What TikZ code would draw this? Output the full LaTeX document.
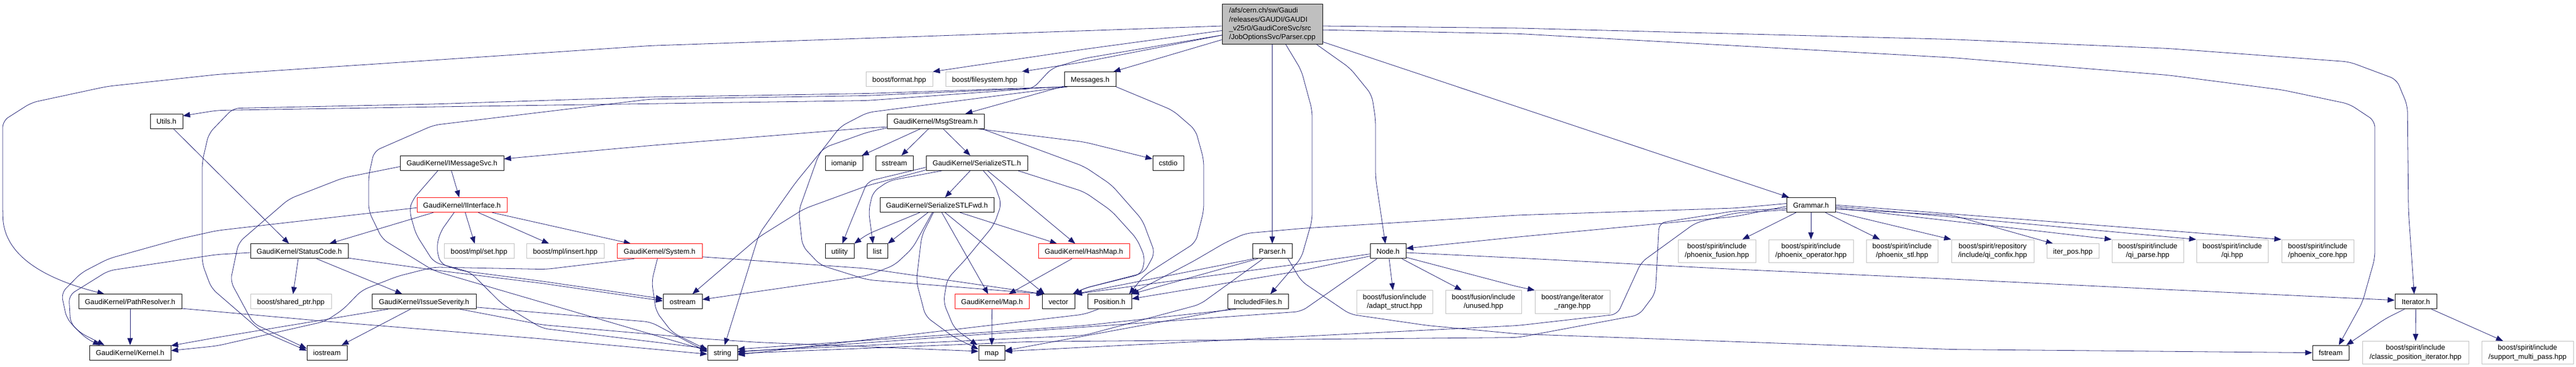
\documentclass[tikz,border=0pt]{standalone}
\usepackage{fontspec}
\setmainfont{Liberation Sans}
\usetikzlibrary{arrows.meta,calc}
\pgfdeclarelayer{bg}
\pgfdeclarelayer{paper}
\pgfsetlayers{paper,bg,main}
\definecolor{edgec}{RGB}{25,25,112}
\definecolor{grayb}{RGB}{191,191,191}
\newcommand{\dfont}{\fontsize{13.2}{16.2}\selectfont}
\begin{document}
\begin{tikzpicture}[x=1pt,y=-1.2969pt,
  box/.style={draw=black, line width=0.9pt, fill=white, inner sep=0pt, font=\dfont,
    text height=11.5pt, text depth=1.5pt, minimum height=27pt},
  extb/.style={box, draw=grayb},
  trunc/.style={box, draw=red},
  twol/.style={draw=grayb, line width=0.9pt, fill=white, inner sep=0pt, font=\dfont,
    align=center, minimum height=42.5pt},
  srcst/.style={draw=black, line width=0.9pt, fill=grayb, inner sep=0pt, font=\dfont,
    align=left, minimum width=185pt, minimum height=74pt},
  ar/.style={draw=edgec, line width=0.8pt, -{Triangle[length=13pt,width=10pt]}, rounded corners=12pt}]
\useasboundingbox (0,0) rectangle (4751,522);
\begin{pgfonlayer}{paper}
\fill[white] (0,0) rectangle (4751,522);
\end{pgfonlayer}

% ---------- nodes ----------
\node[srcst] (src) at (2346.5,34.5) {/afs/cern.ch/sw/Gaudi\\/releases/GAUDI/GAUDI\\\_v25r0/GaudiCoreSvc/src\\/JobOptionsSvc/Parser.cpp};
\node[extb, minimum width=123pt] (format) at (1658.5,112.7) {boost/format.hpp};
\node[extb, minimum width=144pt] (filesys) at (1816,112.7) {boost/filesystem.hpp};
\node[box, minimum width=95pt] (Messages) at (2010.5,112.7) {Messages.h};
\node[box, minimum width=60pt] (Utils) at (307,172.5) {Utils.h};
\node[box, minimum width=179pt] (MsgStream) at (1725.5,172.5) {GaudiKernel/MsgStream.h};
\node[box, minimum width=191pt] (IMsgSvc) at (833.5,232) {GaudiKernel/IMessageSvc.h};
\node[box, minimum width=69pt] (iomanip) at (1556.5,232) {iomanip};
\node[box, minimum width=69pt] (sstream) at (1649.5,232) {sstream};
\node[box, minimum width=187pt] (SerSTL) at (1801.5,232) {GaudiKernel/SerializeSTL.h};
\node[box, minimum width=57pt] (cstdio) at (2154.5,232) {cstdio};
\node[trunc, minimum width=166pt] (IInterface) at (852,291.5) {GaudiKernel/IInterface.h};
\node[box, minimum width=210pt] (Fwd) at (1728,291.5) {GaudiKernel/SerializeSTLFwd.h};
\node[box, minimum width=90pt] (Grammar) at (3340,291.5) {Grammar.h};
\node[box, minimum width=180pt] (StatusCode) at (552,357.3) {GaudiKernel/StatusCode.h};
\node[extb, minimum width=129pt] (mplset) at (883.5,357.3) {boost/mpl/set.hpp};
\node[extb, minimum width=143pt] (mplinsert) at (1042.5,357.3) {boost/mpl/insert.hpp};
\node[trunc, minimum width=157pt] (System) at (1216.5,357.3) {GaudiKernel/System.h};
\node[box, minimum width=53pt] (utility) at (1548.5,357.3) {utility};
\node[box, minimum width=38pt] (list) at (1618,357.3) {list};
\node[trunc, minimum width=168pt] (HashMap) at (1999,357.3) {GaudiKernel/HashMap.h};
\node[box, minimum width=73pt] (Parser) at (2346.5,357.3) {Parser.h};
\node[box, minimum width=66pt] (Node) at (2560,357.3) {Node.h};
\node[twol, minimum width=143pt] (pfusion) at (3166.5,357.3) {boost/spirit/include\\/phoenix\_fusion.hpp};
\node[twol, minimum width=156pt] (poper) at (3340,357.3) {boost/spirit/include\\/phoenix\_operator.hpp};
\node[twol, minimum width=132pt] (pstl) at (3508,357.3) {boost/spirit/include\\/phoenix\_stl.hpp};
\node[twol, minimum width=152pt] (confix) at (3675,357.3) {boost/spirit/repository\\/include/qi\_confix.hpp};
\node[extb, minimum width=96pt] (iterpos) at (3823,357.3) {iter\_pos.hpp};
\node[twol, minimum width=132pt] (qiparse) at (3961,357.3) {boost/spirit/include\\/qi\_parse.hpp};
\node[twol, minimum width=132pt] (qi) at (4117,357.3) {boost/spirit/include\\/qi.hpp};
\node[twol, minimum width=133pt] (pcore) at (4274.5,357.3) {boost/spirit/include\\/phoenix\_core.hpp};
\node[box, minimum width=190pt] (PathRes) at (240,429) {GaudiKernel/PathResolver.h};
\node[extb, minimum width=149pt] (sharedptr) at (536.5,429) {boost/shared\_ptr.hpp};
\node[box, minimum width=192pt] (IssueSev) at (782,429) {GaudiKernel/IssueSeverity.h};
\node[box, minimum width=72pt] (ostream) at (1259,429) {ostream};
\node[trunc, minimum width=137pt] (Maph) at (1829.5,429) {GaudiKernel/Map.h};
\node[box, minimum width=60pt] (vector) at (1952,429) {vector};
\node[box, minimum width=81pt] (Position) at (2046.5,429) {Position.h};
\node[box, minimum width=112pt] (IncFiles) at (2320,429) {IncludedFiles.h};
\node[twol, minimum width=140pt] (adapt) at (2572,429.5) {boost/fusion/include\\/adapt\_struct.hpp};
\node[twol, minimum width=140pt] (unused) at (2736,429.5) {boost/fusion/include\\/unused.hpp};
\node[twol, minimum width=138pt] (itrange) at (2900,429.5) {boost/range/iterator\\\_range.hpp};
\node[box, minimum width=77pt] (Iterator) at (4455.5,429) {Iterator.h};
\node[box, minimum width=150pt] (Kernel) at (240,501.7) {GaudiKernel/Kernel.h};
\node[box, minimum width=74pt] (iostream) at (603,501.7) {iostream};
\node[box, minimum width=55pt] (string) at (1332.5,501.7) {string};
\node[box, minimum width=48pt] (map) at (1829,501.7) {map};
\node[box, minimum width=67pt] (fstream) at (4298.5,501.7) {fstream};
\node[twol, minimum width=196pt] (classic) at (4455,501.7) {boost/spirit/include\\/classic\_position\_iterator.hpp};
\node[twol, minimum width=169pt] (multipass) at (4661.5,501.7) {boost/spirit/include\\/support\_multi\_pass.hpp};

% ---------- edges ----------
\begin{pgfonlayer}{bg}
% main file
\draw[ar] ($(src.west)+(0,2.5)$) -- (1200,65) -- (400,106) -- (197,123) -- (58,146) -- (5,172) -- (5,300) .. controls (8,370) and (100,400) .. ($(PathRes.north west)+(48,0)$);
\draw[ar] ($(src.west)+(0,9)$) -- (2000,70) -- (format.north east);
\draw[ar] ($(src.west)+(0,15.5)$) -- (2000,88) -- ($(filesys.north east)+(-4,0)$);
\draw[ar] ($(src.west)+(0,15.5)$) -- (2000,83) -- (1940,97) -- (1905,126) -- (1600,143) -- (800,152) -- (400,157) -- ($(Utils.north east)+(0,3)$);
\draw[ar] ($(src.west)+(0,22)$) -- ($(Messages.north east)+(-5,0)$);
\draw[ar] (src) -- (Parser);
\draw[ar] ($(src.south)+(25,0)$) -- (2400,100) -- (2420,157) -- (2420,313) -- (2400,367) -- ($(IncFiles.north)+(23,0)$);
\draw[ar] ($(src.south)+(82,0)$) -- (2490,97) -- (2530,135) -- (2537,170) -- (2537,253) -- ($(Node.north)+(-5,0)$);
\draw[ar] ($(src.east)+(0,25)$) -- ($(Grammar.north west)+(5,0)$);
\draw[ar] ($(src.east)+(0,2.5)$) -- (2800,40) -- (3600,56) -- (4000,69) -- (4333,88) -- (4420,113) -- (4440,150) -- (4442,300) -- ($(Iterator.north)+(-3,0)$);
\draw[ar] ($(src.east)+(0,8)$) -- (2800,48) -- (3600,82) -- (4000,107) -- (4210,128) -- (4333,148) -- (4380,172) -- (4380,367) -- (4357,430) -- ($(fstream.north)+(15,0)$);
% Utils
\draw[ar] ($(Utils.south)+(13,0)$) -- ($(StatusCode.north)+(-19,0)$);
% Messages
\draw[ar] ($(Messages.south west)+(0,-1)$) -- ($(MsgStream.north)+(55,0)$);
\draw[ar] (Messages.south east) -- (2163,157) -- (2205,185) -- (2220,227) -- (2220,300) -- (2205,345) -- (2110,392) -- ($(Position.north east)+(-5,0)$);
\draw[ar] (Messages.south west) -- (1600,133) -- (1200,138) -- (800,148) -- (430,154) -- (385,190) -- (373,230) -- (373,375) -- (390,410) -- (480,470) -- ($(iostream.west)+(0,-3)$);
\draw[ar] ($(Messages.south west)+(3,0)$) -- (1600,136) -- (1200,141) -- (800,178) -- (690,215) -- (680,250) -- (680,300) -- (705,340) -- (800,385) -- ($(string.west)+(0,-3)$);
\draw[ar] ($(Messages.south west)+(6,0)$) -- (1600,160) -- (1550,180) -- (1510,220) -- (1473,300) -- (1480,350) -- (1513,377) -- (1600,398) -- ($(vector.north west)+(5,0)$);
% MsgStream
\draw[ar] ($(MsgStream.west)+(0,8)$) -- (1600,182) -- (1200,207) -- ($(IMsgSvc.east)+(0,-6)$);
\draw[ar] ($(MsgStream.west)+(0,9.5)$) -- (1600,188) -- (1520,210) -- (1467,260) -- (1400,333) -- ($(string.north)+(4,0)$);
\draw[ar] ($(MsgStream.south)+(-28,0)$) -- ($(iomanip.north east)+(-2,0)$);
\draw[ar] ($(MsgStream.south)+(-13,0)$) -- ($(sstream.north)+(13,0)$);
\draw[ar] ($(MsgStream.south)+(14,0)$) -- ($(SerSTL.north)+(-12,0)$);
\draw[ar] ($(MsgStream.south east)+(-12,0)$) -- (2000,202) -- ($(cstdio.west)+(0,-6)$);
\draw[ar] ($(MsgStream.south east)+(-4,0)$) -- (2000,237) -- (2050,263) -- (2107,313) -- (2130,360) -- (2110,388) -- (2000,410) -- ($(vector.north east)+(-4,0)$);
% IMessageSvc
\draw[ar] ($(IMsgSvc.south)+(-1,0)$) -- ($(IInterface.north)+(-5,0)$);
\draw[ar] ($(IMsgSvc.west)+(0,5)$) -- (633,253) -- (533,283) -- (440,345) -- (425,400) -- (467,460) -- ($(iostream.west)+(0,-6)$);
\draw[ar] ($(IMsgSvc.south west)+(70,0)$) -- (760,285) -- (755,300) -- (767,333) -- (800,373) -- (867,387) -- (927,433) -- (1000,467) -- ($(string.west)+(0,-6)$);
% IInterface
\draw[ar] ($(IInterface.south west)+(31,0)$) -- ($(StatusCode.north east)+(-35,0)$);
\draw[ar] ($(IInterface.south)+(6,0)$) -- ($(mplset.north)+(-8,0)$);
\draw[ar] ($(IInterface.south)+(30,0)$) -- ($(mplinsert.north)+(-30,0)$);
\draw[ar] ($(IInterface.south east)+(-28,0)$) -- ($(System.north)+(-53,0)$);
\draw[ar] ($(IInterface.west)+(0,4)$) -- (400,328) -- (330,340) -- (200,368) -- (150,388) -- (113,417) -- (123,453) -- (147,473) -- ($(Kernel.north west)+(28,0)$);
\draw[ar] ($(IInterface.south west)+(69,0)$) -- (812,330) -- (805,352) -- (812,375) -- (850,385) -- (1000,400) -- ($(ostream.west)+(0,-4)$);
% StatusCode
\draw[ar] ($(StatusCode.west)+(0,2)$) -- (400,362) -- (200,385) -- (127,420) -- (130,460) -- (160,482) -- ($(Kernel.north west)+(20,0)$);
\draw[ar] ($(StatusCode.south)+(-2,0)$) -- ($(sharedptr.north)+(4,0)$);
\draw[ar] ($(StatusCode.south)+(32,0)$) -- ($(IssueSev.north)+(-40,0)$);
\draw[ar] ($(StatusCode.south east)+(0,-1)$) -- (800,384) -- (1000,403) -- ($(ostream.west)+(0,-1)$);
% IssueSeverity
\draw[ar] ($(IssueSev.south)+(-25,0)$) -- ($(iostream.north)+(27,0)$);
\draw[ar] ($(IssueSev.south west)+(30,0)$) -- (400,480) -- ($(Kernel.east)+(0,-10)$);
\draw[ar] ($(IssueSev.east)+(0,8)$) -- (1200,458) -- ($(string.west)+(0,-1)$);
\draw[ar] ($(IssueSev.south east)+(-30,0)$) -- (1000,462) -- (1300,482) -- (1400,487) -- ($(map.west)+(0,-2)$);
% PathResolver
\draw[ar] (PathRes) -- (Kernel);
\draw[ar] ($(PathRes.south east)+(0,-1)$) -- (600,457) -- (1000,482) -- ($(string.west)+(0,2)$);
% System
\draw[ar] ($(System.south west)+(32,0)$) -- (1007,383) -- (800,380) -- (733,393) -- (667,413) -- (633,440) -- (600,457) -- (400,492) -- ($(Kernel.east)+(0,-3)$);
\draw[ar] ($(System.south)+(-4,0)$) -- (1202,400) -- (1210,443) -- (1240,473) -- ($(string.west)+(0,-4)$);
\draw[ar] ($(System.east)+(0,8)$) -- (1600,382) -- ($(vector.north west)+(3,0)$);
% SerializeSTL
\draw[ar] ($(SerSTL.south)+(-12,0)$) -- ($(Fwd.north)+(15,0)$);
\draw[ar] ($(SerSTL.south)+(20,0)$) -- ($(HashMap.north)+(-16,0)$);
\draw[ar] ($(SerSTL.south west)+(30,0)$) -- (1640,257) -- (1610,273) -- (1602,300) -- ($(list.north)+(-8,0)$);
\draw[ar] ($(SerSTL.west)+(0,6)$) -- (1600,258) -- (1567,320) -- ($(utility.north)+(5,0)$);
\draw[ar] ($(SerSTL.south west)+(0,-1)$) -- (1600,264) -- (1483,297) -- (1400,337) -- ($(ostream.north)+(18,0)$);
\draw[ar] ($(SerSTL.south)+(12,0)$) -- (1833,260) -- (1847,290) -- (1833,320) -- (1783,367) -- (1747,397) -- (1740,430) -- (1760,467) -- ($(map.north west)+(-2,0)$);
\draw[ar] ($(SerSTL.south east)+(-18,0)$) -- (2000,273) -- (2050,300) -- (2097,340) -- (2112,367) -- (2105,390) -- (2000,410) -- ($(vector.north east)+(-4,0)$);
% SerializeSTLFwd
\draw[ar] ($(Fwd.south west)+(89,0)$) -- (list.north east);
\draw[ar] ($(Fwd.south west)+(74,0)$) -- (1600,333) -- (utility.north east);
\draw[ar] ($(Fwd.south west)+(97,0)$) -- (1683,353) -- (1650,377) -- (1600,392) -- ($(ostream.east)+(0,-3)$);
\draw[ar] ($(Fwd.south west)+(99,0)$) -- (1700,335) -- (1690,400) -- (1707,450) -- (1760,480) -- ($(map.west)+(0,-5)$);
\draw[ar] ($(Fwd.south)+(9,0)$) -- ($(Maph.north)+(-7,0)$);
\draw[ar] ($(Fwd.south)+(15,0)$) -- ($(vector.north west)+(5,0)$);
\draw[ar] ($(Fwd.south east)+(-63,0)$) -- ($(HashMap.north west)+(35,0)$);
% HashMap, Map
\draw[ar] ($(HashMap.south)+(-22,0)$) -- ($(Maph.north east)+(-38,0)$);
\draw[ar] (Maph) -- (map);
% Parser
\draw[ar] ($(Parser.south west)+(10,0)$) -- (Position.north east);
\draw[ar] ($(Parser.south)+(-17,0)$) -- (2213,433) -- (2000,477) -- ($(string.east)+(0,-2)$);
\draw[ar] ($(Parser.south west)+(3,0)$) -- (vector.north east);
\draw[ar] ($(Parser.south east)+(-8,0)$) -- (2400,400) -- (2490,447) -- (2633,463) -- (2800,475) -- (3600,497) -- (fstream.west);
% IncludedFiles, Position
\draw[ar] ($(IncFiles.south west)+(16,0)$) -- (2000,463) -- ($(string.east)+(0,-5)$);
\draw[ar] ($(IncFiles.south west)+(5,0)$) -- ($(map.east)+(0,-3)$);
\draw[ar] ($(Position.south west)+(20,0)$) -- (2000,447) -- ($(string.east)+(0,3)$);
% Node
\draw[ar] ($(Node.south)+(2,0)$) -- ($(adapt.north)+(-3,0)$);
\draw[ar] ($(Node.south east)+(-8,0)$) -- ($(unused.north)+(-40,0)$);
\draw[ar] ($(Node.south east)+(0,-2)$) -- (2800,408) -- (itrange.north west);
\draw[ar] ($(Node.east)+(0,2)$) -- (2800,367) -- (3200,383) -- (3600,397) -- (4000,412) -- ($(Iterator.west)+(0,-2)$);
\draw[ar] ($(Node.west)+(0,4)$) -- (2400,375) -- (vector.north east);
\draw[ar] ($(Node.west)+(0,7)$) -- (2400,385) -- ($(Position.east)+(0,-4)$);
\draw[ar] ($(Node.south west)+(13,0)$) -- (2400,443) -- ($(string.east)+(0,-1)$);
% Grammar
\draw[ar] ($(Grammar.west)+(0,2)$) -- (3200,308) -- (2800,337) -- ($(Node.east)+(0,-4)$);
\draw[ar] ($(Grammar.west)+(0,-2)$) -- (3200,296) -- (2800,306) -- (2400,325) -- (2297,332) -- (2260,345) -- (2200,372) -- ($(Position.north east)+(-2,0)$);
\draw[ar] ($(Grammar.west)+(0,5)$) -- (3200,300) -- (3060,317) -- (3053,417) -- (3023,448) -- (2800,480) -- (1900,486) -- ($(string.east)+(0,1)$);
\draw[ar] ($(Grammar.west)+(0,7)$) -- (3200,303) -- (3127,317) -- (3027,373) -- (2983,447) -- (2800,463) -- ($(map.east)+(0,-2)$);
\draw[ar] ($(Grammar.south west)+(18,0)$) -- ($(pfusion.north east)+(-25,0)$);
\draw[ar] (Grammar) -- (poper);
\draw[ar] ($(Grammar.south east)+(-19,0)$) -- ($(pstl.north)+(-41,0)$);
\draw[ar] ($(Grammar.south east)+(0,-1)$) -- (confix.north west);
\draw[ar] ($(Grammar.east)+(0,6)$) -- (3600,306) -- ($(iterpos.north west)+(12,0)$);
\draw[ar] ($(Grammar.east)+(0,4)$) -- (qiparse.north west);
\draw[ar] ($(Grammar.east)+(0,2)$) -- (qi.north west);
\draw[ar] (Grammar.east) -- (pcore.north west);
% Iterator
\draw[ar] (Iterator) -- (classic);
\draw[ar] ($(Iterator.south east)+(-10,0)$) -- ($(multipass.north west)+(40,0)$);
\draw[ar] ($(Iterator.south west)+(18,0)$) -- (4400,453) -- ($(fstream.north east)+(-5,0)$);
\end{pgfonlayer}
\end{tikzpicture}
\end{document}
